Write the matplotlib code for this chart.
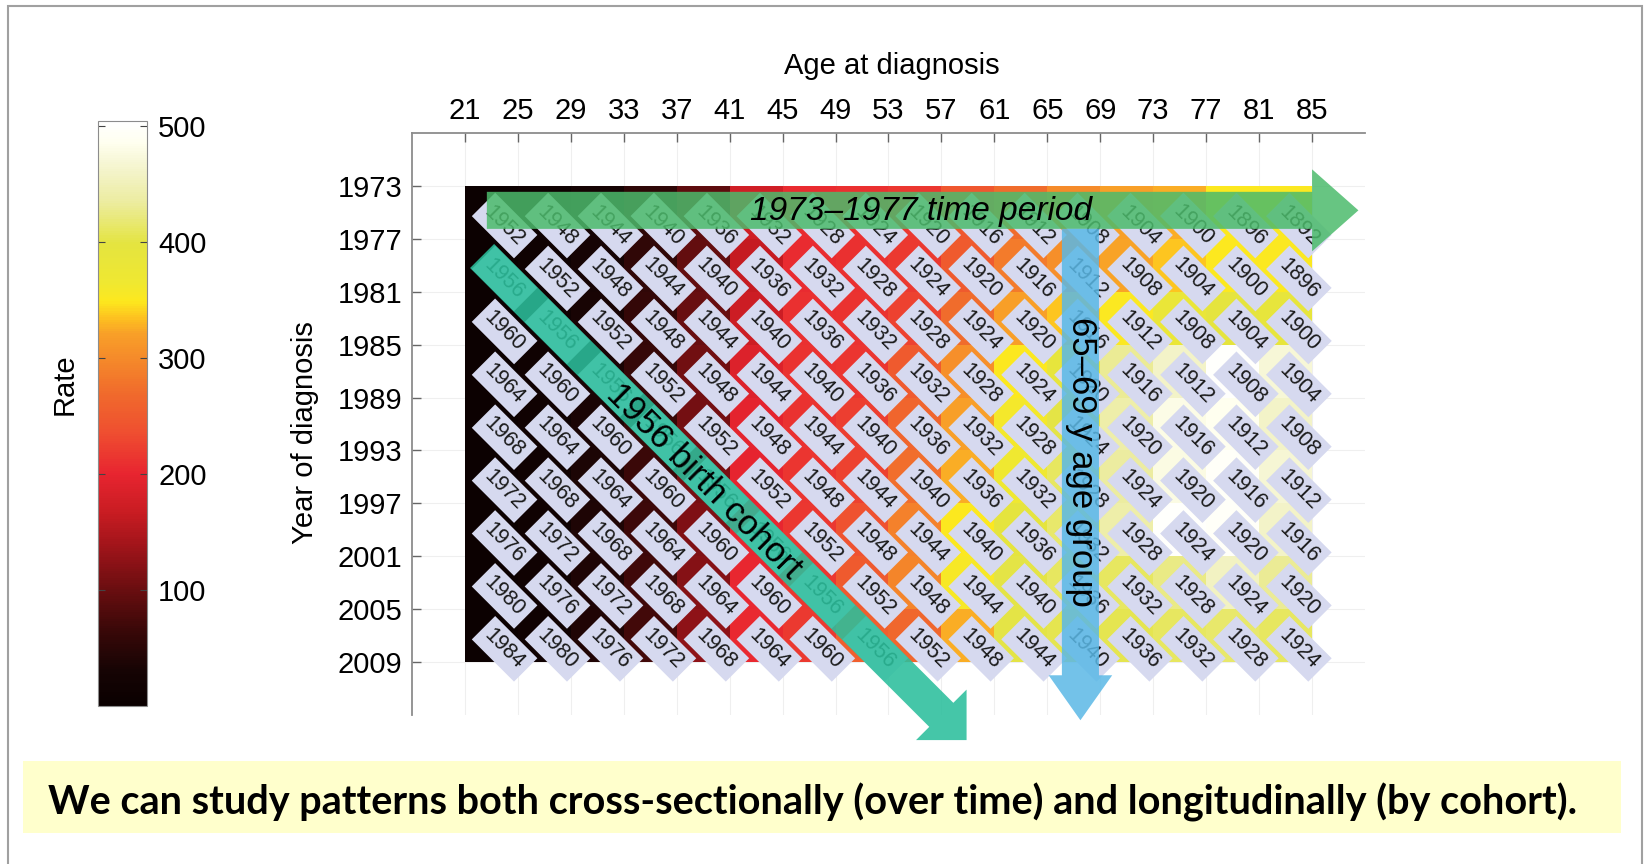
import matplotlib
matplotlib.use("Agg")
import matplotlib.pyplot as plt
from matplotlib.colors import LinearSegmentedColormap
from matplotlib.patches import FancyArrow, Rectangle

plt.rcParams['font.family'] = ['Liberation Sans', 'DejaVu Sans']

# cell edges: age groups across, diagnosis periods down
age_ticks = [21, 25, 29, 33, 37, 41, 45, 49, 53, 57, 61, 65, 69, 73, 77, 81, 85]
year_ticks = [1973, 1977, 1981, 1985, 1989, 1993, 1997, 2001, 2005, 2009]
rate_ticks = [100, 200, 300, 400, 500]

# incidence rate per (period, age group); rows start at 1973
rates = [
    [5, 12, 30, 55, 92, 175, 205, 210, 215, 245, 270, 300, 320, 325, 350, 352],
    [5, 12, 30, 56, 95, 165, 205, 210, 218, 250, 285, 305, 322, 335, 350, 352],
    [6, 14, 32, 60, 100, 170, 210, 212, 225, 270, 320, 335, 352, 380, 395, 390],
    [6, 14, 34, 62, 105, 188, 212, 214, 250, 305, 350, 390, 430, 460, 500, 470],
    [6, 15, 35, 63, 108, 195, 212, 222, 262, 320, 360, 400, 440, 480, 485, 460],
    [6, 15, 36, 65, 110, 198, 214, 225, 272, 325, 365, 410, 435, 478, 495, 468],
    [6, 16, 38, 68, 115, 200, 215, 240, 290, 350, 395, 415, 440, 500, 495, 460],
    [6, 16, 39, 70, 120, 202, 216, 250, 295, 355, 400, 410, 410, 425, 455, 430],
    [6, 17, 40, 72, 125, 204, 218, 255, 265, 325, 400, 405, 405, 410, 415, 410],
]

RATE_MAX = 504
cmap_nodes = [
    (0, '#0a0000'), (30, '#160404'), (65, '#3a0808'), (100, '#6a0e10'),
    (137, '#a0141a'), (166, '#c81c22'), (200, '#e82530'), (237, '#ef5030'),
    (269, '#f06a2c'), (299, '#f58a2a'), (321, '#f8a028'), (334, '#fdc020'),
    (349, '#fde81e'), (364, '#f0e830'), (399, '#e4e440'), (435, '#ececa0'),
    (463, '#f4f4cc'), (487, '#fffff0'), (RATE_MAX, '#ffffff'),
]
rate_cmap = LinearSegmentedColormap.from_list(
    'rate', [(v / RATE_MAX, c) for v, c in cmap_nodes])

fig = plt.figure(figsize=(16.47, 8.64), dpi=100)
ax = fig.add_axes([0.2501, 0.1725, 0.5787, 0.6736])
mesh = ax.pcolormesh(age_ticks, year_ticks, rates, cmap=rate_cmap,
                     vmin=0, vmax=RATE_MAX, zorder=1)
ax.set_xlim(17, 89)
ax.set_ylim(2013, 1969)
ax.set_xticks(age_ticks)
ax.set_yticks(year_ticks)
ax.xaxis.tick_top()
ax.xaxis.set_label_position('top')
ax.tick_params(direction='in', length=6.5, width=1, color='#666666',
               labelsize=21)
ax.tick_params(axis='x', pad=5.5)
ax.tick_params(axis='y', pad=7)
for side in ('right', 'bottom'):
    ax.spines[side].set_visible(False)
for side in ('top', 'left'):
    ax.spines[side].set_color('#8c8c8c')
    ax.spines[side].set_linewidth(1.3)
ax.grid(color='#efefef', lw=0.8)
ax.set_axisbelow(True)

ax.set_xlabel('Age at diagnosis', fontsize=21)
ax.xaxis.set_label_coords(0.503, 1.115)
ax.xaxis.label.set_va('center')
ax.set_ylabel('Year of diagnosis', fontsize=21)
ax.yaxis.set_label_coords(-0.112, 0.485)
ax.yaxis.label.set_va('center')

# birth cohort tag in every cell
for yr in year_ticks[:-1]:
    for age in age_ticks[:-1]:
        ax.text(age + 3, yr + 3, str(yr - age), rotation=-45,
                rotation_mode='anchor', ha='center', va='center',
                fontsize=15.5, color='#1a1a1a', zorder=3,
                bbox=dict(boxstyle='square,pad=0.28', fc='#d6d9ef', ec='none'))

# period / cohort / age-group arrows
arrow_kw = dict(length_includes_head=True, ec='none', zorder=4, clip_on=False)
ax.add_patch(FancyArrow(22.66, 1974.85, 65.84, 0, width=2.8, head_width=6.2,
                        head_length=3.5, fc='#4cbb6c', alpha=0.85, **arrow_kw))
ax.add_patch(FancyArrow(22.3, 1978.3, 36.6, 36.6, width=2.57, head_width=5.4,
                        head_length=2.7, fc='#2bbf9c', alpha=0.88, **arrow_kw))
ax.add_patch(FancyArrow(67.5, 1976.25, 0, 37.15, width=2.8, head_width=4.8,
                        head_length=3.4, fc='#5ab8e6', alpha=0.85, **arrow_kw))

ax.text(55.44, 1975.57, '1973\u20131977 time period', fontsize=24,
        style='italic', ha='center', va='baseline', zorder=5)
ax.text(39.09, 1995.31, '1956 birth cohort', fontsize=25, rotation=-45,
        rotation_mode='anchor', ha='center', va='center', zorder=5)
ax.text(67.57, 1993.88, '65\u201369 y age group', fontsize=25, rotation=-90,
        rotation_mode='anchor', ha='center', va='center', zorder=5)

cax = fig.add_axes([0.0595, 0.1829, 0.0298, 0.6771])
cbar = fig.colorbar(mesh, cax=cax, ticks=rate_ticks)
cbar.outline.set_edgecolor('#8c8c8c')
cax.tick_params(direction='in', length=5, left=True, right=True,
                labelsize=21, pad=8, color='#444444')
fig.text(65 / 1647, 1 - 384 / 864, 'Rate', rotation=90, ha='center',
         va='center', fontsize=21)

fig.patches.append(Rectangle((23 / 1647, 1 - 833 / 864), 1598 / 1647, 72 / 864,
                             transform=fig.transFigure, fc='#ffffcc', ec='none'))
fig.text(813 / 1647, 1 - 802 / 864,
         'We can study patterns both cross-sectionally (over time) and '
         'longitudinally (by cohort).',
         family=['Lato', 'DejaVu Sans'], weight='bold', fontsize=28.5,
         ha='center', va='center')
fig.patches.append(Rectangle((8 / 1647, -0.05), 1634 / 1647, 1.0431,
                             transform=fig.transFigure, fill=False,
                             ec='#a0a0a0', lw=1.5))

fig.savefig('out.png', dpi=100)
